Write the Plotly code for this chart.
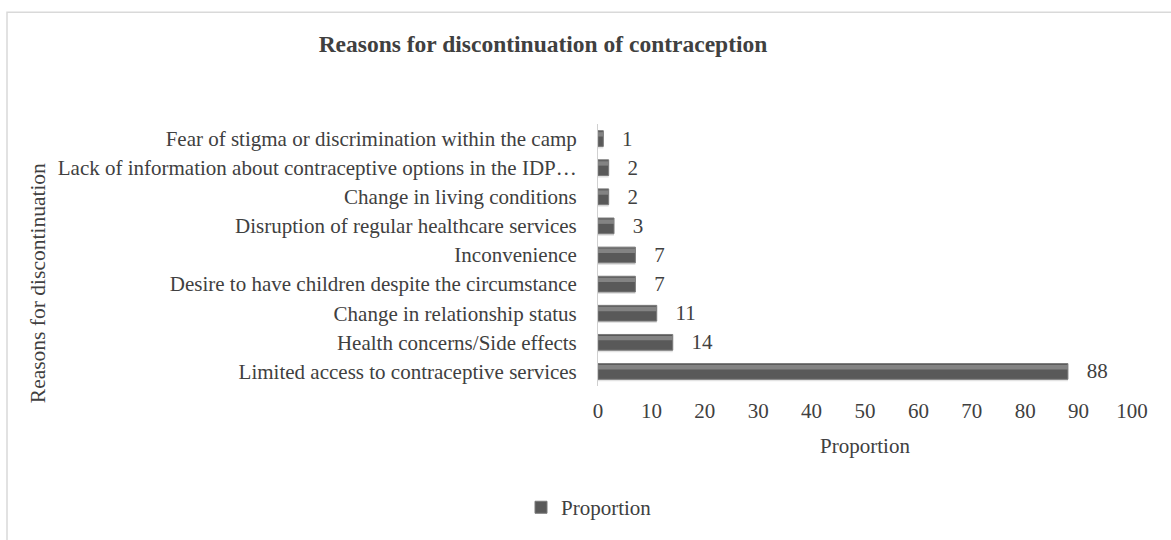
import plotly.graph_objects as go

# Reasons for discontinuation, listed top to bottom
reasons = [
    "Fear of stigma or discrimination within the camp",
    "Lack of information about contraceptive options in the IDP…",
    "Change in living conditions",
    "Disruption of regular healthcare services",
    "Inconvenience",
    "Desire to have children despite the circumstance",
    "Change in relationship status",
    "Health concerns/Side effects",
    "Limited access to contraceptive services",
]
proportion = [1, 2, 2, 3, 7, 7, 11, 14, 88]
x_ticks = [0, 10, 20, 30, 40, 50, 60, 70, 80, 90, 100]

W, H = 1171, 540
L, R, T, B = 598, 39, 124, 151
pw, ph = W - L - R, H - T - B

def px(xp):
    return (xp - L) / pw

def py(yp):
    return (H - B - yp) / ph

FONT = "Liberation Serif, Times New Roman, serif"
TXT = "#404040"
BAR_W = 0.54

fig = go.Figure()
# soft shadow under each bar
fig.add_trace(go.Bar(
    x=proportion, y=reasons, orientation="h",
    width=0.08, offset=BAR_W / 2 - 0.01,
    marker=dict(color="#e3e3e3", line=dict(width=0)),
    showlegend=False, hoverinfo="skip",
))
# main bar body
fig.add_trace(go.Bar(
    x=proportion, y=reasons, orientation="h",
    name="Proportion",
    width=BAR_W, offset=-BAR_W / 2,
    marker=dict(color="#595959", line=dict(color="#7a7a7a", width=1)),
    text=[f"   {v}" for v in proportion],
    textposition="outside",
    constraintext="none",
    textfont=dict(family=FONT, size=21, color=TXT),
    cliponaxis=False,
))
# bevel highlight along the top edge
fig.add_trace(go.Bar(
    x=proportion, y=reasons, orientation="h",
    width=0.15, offset=-BAR_W / 2 + 0.05,
    marker=dict(color="#838383", line=dict(width=0)),
    showlegend=False, hoverinfo="skip",
))

fig.update_layout(
    width=W, height=H,
    margin=dict(l=L, r=R, t=T, b=B),
    paper_bgcolor="white", plot_bgcolor="white",
    font=dict(family=FONT, size=21, color=TXT),
    barmode="overlay",
    showlegend=True,
    legend=dict(
        orientation="h", x=px(589), y=py(512),
        xanchor="center", yanchor="middle",
        font=dict(size=21, color=TXT),
        itemwidth=30,
    ),
    title=dict(
        text="<b>Reasons for discontinuation of contraception</b>",
        x=543 / W, y=1 - 44 / H, xanchor="center", yanchor="middle",
        font=dict(family=FONT, size=23.5, color=TXT),
    ),
    xaxis=dict(
        range=[0, 100], tickvals=x_ticks, showgrid=False, zeroline=False,
        showline=False, ticks="", ticklabelstandoff=10,
        tickfont=dict(size=21),
        title=dict(text="Proportion", font=dict(size=21), standoff=16),
    ),
    yaxis=dict(
        autorange="reversed", showgrid=False, zeroline=False,
        showline=True, linecolor="#d0d0d0", linewidth=1,
        ticks="", ticklabelstandoff=16,
        tickfont=dict(size=21),
    ),
    annotations=[dict(
        text="Reasons for discontinuation", textangle=-90,
        xref="paper", yref="paper", x=px(38), y=py(285),
        xanchor="center", yanchor="middle", showarrow=False,
        font=dict(family=FONT, size=21.5, color=TXT),
    )],
    shapes=[dict(
        type="rect", xref="paper", yref="paper",
        x0=px(7), x1=px(1185), y0=py(560), y1=py(11),
        line=dict(color="#d9d9d9", width=1.5), fillcolor="rgba(0,0,0,0)",
        layer="below",
    )],
)

fig.write_html("out.html")
